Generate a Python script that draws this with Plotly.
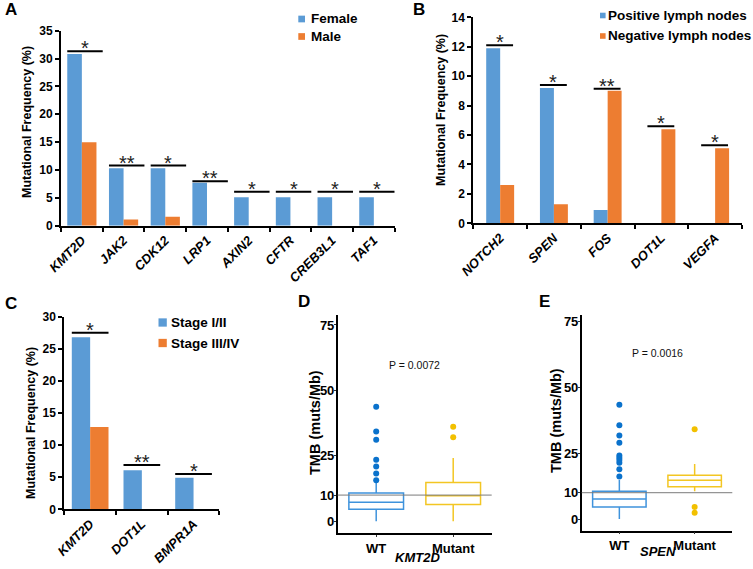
import plotly.graph_objects as go

W, H = 753, 569
FONT = "Liberation Sans, Arial, sans-serif"
BLUE = "#5B9BD5"
ORANGE = "#ED7D31"
WT_COL = "#3f93dc"
WT_PT = "#0a72cc"
MUT_COL = "#f3c623"
MUT_PT = "#f2c000"

# --- A: sex
genes_a = ["KMT2D", "JAK2", "CDK12", "LRP1", "AXIN2", "CFTR", "CREB3L1", "TAF1"]
female = [30.8, 10.3, 10.3, 7.7, 5.1, 5.1, 5.1, 5.1]
male = [15.0, 1.1, 1.6, 0, 0, 0, 0, 0]
sig_a = ["*", "**", "*", "**", "*", "*", "*", "*"]
sig_y_a = [31.3, 10.8, 10.8, 8.0, 6.1, 6.1, 6.1, 6.1]

# --- B: lymph nodes
genes_b = ["NOTCH2", "SPEN", "FOS", "DOT1L", "VEGFA"]
pos_ln = [11.9, 9.2, 0.9, 0, 0]
neg_ln = [2.6, 1.3, 9.0, 6.4, 5.1]
sig_b = ["*", "*", "**", "*", "*"]
sig_y_b = [12.1, 9.4, 9.15, 6.6, 5.3]

# --- C: stage
genes_c = ["KMT2D", "DOT1L", "BMPR1A"]
stage_12 = [26.8, 6.1, 4.9]
stage_34 = [12.8, 0, 0]
sig_c = ["*", "**", "*"]
sig_y_c = [27.5, 6.9, 5.5]

# --- D / E: TMB boxplots (summary stats)
groups = ["WT", "Mutant"]
d_q1, d_med, d_q3 = [4.6, 6.4], [7.3, 9.7], [10.8, 14.8]
d_lo, d_hi = [0, 0], [15.5, 24.2]
d_out = [[43.7, 34.3, 31.1, 23.5, 20.9, 18.2, 15.7], [36.1, 32.1]]
d_p = "P = 0.0072"

e_q1, e_med, e_q3 = [4.6, 12.3], [7.6, 14.7], [10.6, 16.6]
e_lo, e_hi = [0, 10.6], [14.8, 20.9]
e_out = [[43.5, 35.7, 31.8, 29.0, 24.2, 23.3, 22.4, 21.4, 18.9, 16.2], [34.1, 4.6, 2.4]]
e_p = "P = 0.0016"


def px(x):
    return x / W


def py(y):
    return 1 - y / H


fig = go.Figure()


def bar_panel(n, cats, s1, s2, w, sig, sig_y, span):
    xa, ya = f"x{n}", f"y{n}"
    fig.add_trace(go.Bar(x=cats, y=s1, width=w, offset=-w, marker=dict(color=BLUE, line_width=0),
                         xaxis=xa, yaxis=ya, showlegend=False))
    fig.add_trace(go.Bar(x=cats, y=s2, width=w, offset=0, marker=dict(color=ORANGE, line_width=0),
                         xaxis=xa, yaxis=ya, showlegend=False))
    for i, (s, yv) in enumerate(zip(sig, sig_y)):
        fig.add_shape(type="line", xref=xa, yref=ya, x0=i + span[0], x1=i + span[1], y0=yv, y1=yv,
                      line=dict(color="black", width=2))
        fig.add_annotation(xref=xa, yref=ya, x=i + (span[0] + span[1]) / 2, y=yv, text=s,
                           showarrow=False, yanchor="bottom", yshift=-10,
                           font=dict(family=FONT, size=20, color="#222"))


def box_panel(n, q1, med, q3, lo, hi, outs, ptxt, p_y):
    xa, ya = f"x{n}", f"y{n}"
    for g, lc, pc, a, b, c, d, e, out in zip(groups, [WT_COL, MUT_COL], [WT_PT, MUT_PT],
                                              q1, med, q3, lo, hi, outs):
        fig.add_trace(go.Box(x=[g], q1=[a], median=[b], q3=[c], lowerfence=[d], upperfence=[e],
                             width=0.71, whiskerwidth=0, boxpoints=False, fillcolor="white",
                             line=dict(color=lc, width=1.5), xaxis=xa, yaxis=ya, showlegend=False))
        fig.add_trace(go.Scatter(x=[g] * len(out), y=out, mode="markers",
                                 marker=dict(color=pc, size=6), xaxis=xa, yaxis=ya, showlegend=False))
    fig.add_shape(type="line", xref=f"{xa} domain", yref=ya, x0=0, x1=1, y0=10, y1=10,
                  line=dict(color="#7a7a7a", width=1))
    fig.add_annotation(xref=xa, yref=ya, x=0.5, y=p_y, text=ptxt, showarrow=False,
                       font=dict(family=FONT, size=10.5, color="#111"))


bar_panel(1, genes_a, female, male, 0.35, sig_a, sig_y_a, (-0.35, 0.5))
bar_panel(2, genes_b, pos_ln, neg_ln, 0.26, sig_b, sig_y_b, (-0.26, 0.24))
bar_panel(3, genes_c, stage_12, stage_34, 0.355, sig_c, sig_y_c, (-0.355, 0.355))
box_panel(4, d_q1, d_med, d_q3, d_lo, d_hi, d_out, d_p, 59.7)
box_panel(5, e_q1, e_med, e_q3, e_lo, e_hi, e_out, e_p, 63)

bar_x = dict(type="category", showline=True, linecolor="black", linewidth=2, ticks="outside",
             tickson="boundaries", ticklen=4, tickwidth=2, tickcolor="black", tickangle=-45,
             tickfont=dict(family=FONT, size=13, weight="bold", style="italic", color="black"),
             showgrid=False, zeroline=False, automargin=False)
bar_y = dict(showline=True, linecolor="black", linewidth=2, ticks="outside", ticklen=4, tickwidth=2,
             tickcolor="black", tickfont=dict(family=FONT, size=12, weight="bold", color="black"),
             showgrid=False, zeroline=False, automargin=False)
box_x = dict(type="category", showline=True, linecolor="black", linewidth=1.5, ticks="outside",
             ticklen=2, tickwidth=1, tickcolor="#333", range=[-0.5, 1.5],
             tickfont=dict(family=FONT, size=13, weight="bold", color="black"),
             showgrid=False, zeroline=False, automargin=False)
box_y = dict(showline=True, linecolor="black", linewidth=1.5, ticks="outside", ticklen=2, tickwidth=1,
             tickcolor="#333", tickvals=[0, 10, 25, 50, 75], ticklabelstandoff=-3,
             tickfont=dict(family=FONT, size=13, weight="bold", color="black"),
             showgrid=False, zeroline=False, automargin=False)

fig.update_layout(
    template="none",
    width=W, height=H, margin=dict(l=0, r=0, t=0, b=0, pad=0),
    paper_bgcolor="white", plot_bgcolor="white",
    barmode="overlay", boxmode="overlay", showlegend=False,
    xaxis1=dict(bar_x, domain=[px(61), px(394.7)], anchor="y1", range=[-0.5, 7.5]),
    yaxis1=dict(bar_y, domain=[py(225.7), py(30.7)], anchor="x1", range=[0, 35], dtick=5),
    xaxis2=dict(bar_x, domain=[px(473.3), px(742)], anchor="y2", range=[-0.5, 4.5]),
    yaxis2=dict(bar_y, domain=[py(223.3), py(17.3)], anchor="x2", range=[0, 14], dtick=2),
    xaxis3=dict(bar_x, domain=[px(64.3), px(219.4)], anchor="y3", range=[-0.5, 2.5]),
    yaxis3=dict(bar_y, domain=[py(509.3), py(316.7)], anchor="x3", range=[0, 30], dtick=5),
    xaxis4=dict(box_x, domain=[px(337.7), px(491.7)], anchor="y4"),
    yaxis4=dict(box_y, domain=[py(533.3), py(315)], anchor="x4", range=[-4.6, 78.8]),
    xaxis5=dict(box_x, domain=[px(581.7), px(732.3)], anchor="y5"),
    yaxis5=dict(box_y, domain=[py(530.7), py(315)], anchor="x5", range=[-4.45, 77.6]),
)

# panel letters
for lab, x, y in [("A", 3, 10), ("B", 411, 10), ("C", 3, 303), ("D", 296, 302), ("E", 537, 302)]:
    fig.add_annotation(xref="paper", yref="paper", x=px(x), y=py(y), text=lab, showarrow=False,
                       xanchor="left", yanchor="middle",
                       font=dict(family=FONT, size=17, weight="bold", color="black"))

# axis titles
titles = [("Mutational Frequency (%)", 27, 122, 12.5, -90, "normal"),
          ("Mutational Frequency (%)", 441, 110, 12.5, -90, "normal"),
          ("Mutational Frequency (%)", 31, 423, 12.5, -90, "normal"),
          ("TMB (muts/Mb)", 315, 423, 14.5, -90, "normal"),
          ("TMB (muts/Mb)", 556, 421, 14.5, -90, "normal"),
          ("KMT2D", 418, 557, 13, 0, "italic"),
          ("SPEN", 657.5, 551, 13, 0, "italic")]
for txt, x, y, sz, ang, st in titles:
    fig.add_annotation(xref="paper", yref="paper", x=px(x), y=py(y), text=txt, showarrow=False,
                       textangle=ang, xanchor="center", yanchor="middle",
                       font=dict(family=FONT, size=sz, weight="bold", style=st, color="black"))

# legends (swatch + label)
legends = [(["Female", "Male"], 298.3, [19, 36.5], 6.7, 308.5),
           (["Positive lymph nodes", "Negative lymph nodes"], 600, [15.5, 36], 5.6, 606),
           (["Stage I/II", "Stage III/IV"], 158.5, [322.5, 343], 8.3, 169.3)]
for names, sx, ys, sz, tx in legends:
    for name, col, yc in zip(names, [BLUE, ORANGE], ys):
        fig.add_shape(type="rect", xref="paper", yref="paper", x0=px(sx), x1=px(sx + sz),
                      y0=py(yc - sz / 2), y1=py(yc + sz / 2), fillcolor=col, line_width=0)
        fig.add_annotation(xref="paper", yref="paper", x=px(tx), y=py(yc), text=name, showarrow=False,
                           xanchor="left", yanchor="middle",
                           font=dict(family=FONT, size=13.5, weight="bold", color="black"))

# the page body has a default 8px margin; drop it so the 753x569 figure fills the window
fig.write_html("out.html", config={"displayModeBar": False},
               post_script="document.body.style.margin='0';")
